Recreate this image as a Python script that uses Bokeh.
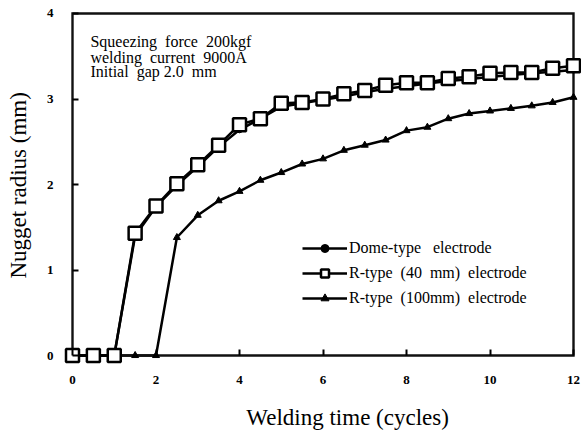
import math
from bokeh.plotting import figure
from bokeh.models import Range1d, Label, Legend, LegendItem, FixedTicker
from bokeh.embed import file_html
from bokeh.resources import INLINE

# ---- data ----
time_cycles = [0, 0.5, 1, 1.5, 2, 2.5, 3, 3.5, 4, 4.5, 5, 5.5, 6, 6.5, 7, 7.5, 8,
               8.5, 9, 9.5, 10, 10.5, 11, 11.5, 12]
dome_type = [0, 0, 0, 1.40, 1.74, 1.99, 2.21, 2.44, 2.64, 2.77, 2.91, 2.95, 2.99,
             3.03, 3.08, 3.12, 3.15, 3.18, 3.21, 3.23, 3.26, 3.28, 3.30, 3.32, 3.34]
r_type_40 = [0, 0, 0, 1.43, 1.75, 2.01, 2.23, 2.46, 2.70, 2.77, 2.95, 2.96, 3.00,
             3.06, 3.10, 3.16, 3.19, 3.19, 3.24, 3.26, 3.30, 3.31, 3.31, 3.36, 3.39]
r_type_100 = [0, 0, 0, 0, 0, 1.38, 1.64, 1.81, 1.92, 2.05, 2.14, 2.24, 2.30,
              2.40, 2.46, 2.52, 2.63, 2.67, 2.77, 2.83, 2.86, 2.89, 2.92, 2.96, 3.02]
x_ticks = [0, 2, 4, 6, 8, 10, 12]
y_ticks = [0, 1, 2, 3, 4]
x_bounds = (0, 12)
y_bounds = (0, 4)
NB = "\u00a0"
series_names = ["Dome-type" + NB * 3 + "electrode",
                "R-type" + NB * 2 + "(40" + NB * 2 + "mm)" + NB * 2 + "electrode",
                "R-type" + NB * 2 + "(100mm)" + NB * 2 + "electrode"]
notes = ["Squeezing" + NB * 2 + "force" + NB * 2 + "200kgf",
         "welding" + NB * 2 + "current" + NB * 2 + "9000A",
         "Initial" + NB * 2 + "gap" + NB + "2.0" + NB * 2 + "mm"]
x_title = "Welding time (cycles)"
y_title = "Nugget radius (mm)"

SERIF = "Liberation Serif"

p = figure(width=581, height=430, output_backend="svg", toolbar_location=None,
           x_range=Range1d(-1.7246, 12.1916), y_range=Range1d(-0.877, 4.152),
           min_border_left=0, min_border_right=0, min_border_top=0,
           min_border_bottom=0)
p.outline_line_color = None
p.grid.visible = False

for ax in (p.xaxis[0], p.yaxis[0]):
    ax.fixed_location = 0
    ax.axis_line_color = None
    ax.major_tick_in = 6
    ax.major_tick_out = 0
    ax.major_tick_line_width = 2
    ax.major_tick_line_color = "black"
    ax.minor_tick_line_color = None
    ax.major_label_text_font = SERIF
    ax.major_label_text_font_size = "13px"
    ax.major_label_text_font_style = "bold"
    ax.major_label_text_color = "black"

p.xaxis.ticker = FixedTicker(ticks=x_ticks)
p.yaxis.ticker = FixedTicker(ticks=y_ticks)
p.xaxis.major_label_standoff = 20
p.yaxis.major_label_standoff = 19

x0b, x1b = x_bounds
y0b, y1b = y_bounds

r100_line = p.line(time_cycles, r_type_100, line_color="black", line_width=2.5)
# plot frame (box around the data area) built from the axis bounds
p.line([x0b, x1b, x1b, x0b, x0b], [y0b, y0b, y1b, y1b, y0b],
       line_color="#111111", line_width=2.4, line_join="miter")
r100_pts = p.scatter(time_cycles, r_type_100, marker="triangle", size=7,
                     fill_color="black", line_color="black")
dome_line = p.line(time_cycles, dome_type, line_color="black", line_width=2.5)
dome_pts = p.scatter(time_cycles, dome_type, marker="circle", size=6,
                     fill_color="black", line_color="black")
r40_line = p.line(time_cycles, r_type_40, line_color="black", line_width=2.5)
r40_pts = p.scatter(time_cycles, r_type_40, marker="square", size=13,
                    fill_color="white", line_color="black", line_width=2.5)

legend = Legend(items=[
    LegendItem(label=series_names[0], renderers=[dome_line, dome_pts]),
    LegendItem(label=series_names[1], renderers=[r40_line, r40_pts]),
    LegendItem(label=series_names[2], renderers=[r100_line, r100_pts]),
], location=(302, 122), glyph_width=45, glyph_height=20, spacing=5,
    padding=0, margin=0, label_standoff=2, background_fill_alpha=0,
    border_line_alpha=0, label_text_font=SERIF, label_text_font_size="16px",
    label_text_color="black")
p.add_layout(legend)

for txt, yv in zip(notes, [3.67, 3.49, 3.32]):
    p.add_layout(Label(x=0.43, y=yv, text=txt, text_font=SERIF,
                       text_font_size="16px", text_color="black",
                       text_baseline="alphabetic"))

p.add_layout(Label(x=6.59, y=-0.72, text=x_title, text_font=SERIF,
                   text_font_size="23px", text_color="black", text_align="center",
                   text_baseline="alphabetic"))
p.add_layout(Label(x=-1.305, y=1.99, text=y_title, angle=math.pi / 2, text_font=SERIF,
                   text_font_size="23px", text_color="black", text_align="center",
                   text_baseline="middle"))

open("out.html", "w").write(file_html(p, INLINE))
